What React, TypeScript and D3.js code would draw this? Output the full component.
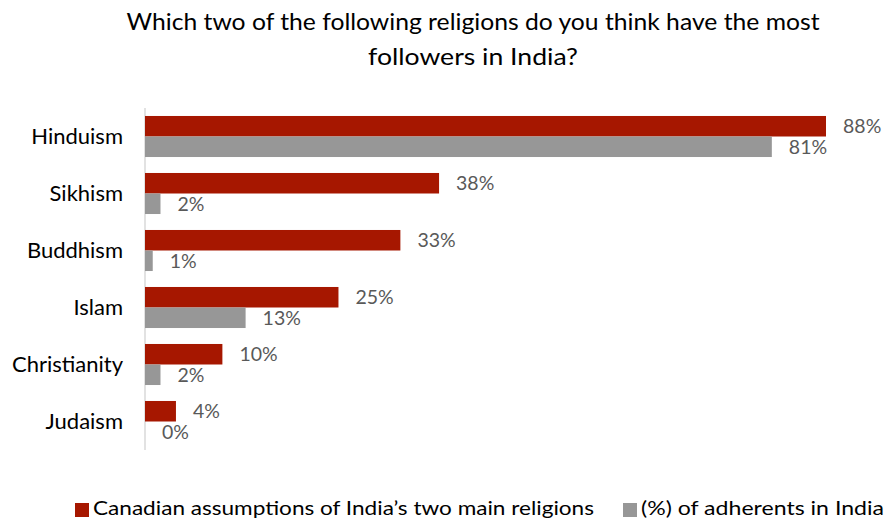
import React from "react";
import * as d3 from "d3";

const categories = ["Hinduism", "Sikhism", "Buddhism", "Islam", "Christianity", "Judaism"];
const assumptions = [88, 38, 33, 25, 10, 4];
const adherents = [81, 2, 1, 13, 2, 0];
const seriesNames = ["Canadian assumptions of India\u2019s two main religions", "(%) of adherents in India"];
const titleLines = ["Which two of the following religions do you think have the most", "followers in India?"];

const RED = "#A61700";
const GRAY = "#979797";
const FONT = "Lato, 'Open Sans', sans-serif";

export default function App() {
  const W = 886, H = 520;
  const x = d3.scaleLinear().domain([0, 88]).range([145, 826]);
  const y = d3.scaleBand<string>().domain(categories).range([108, 450]).paddingInner(0.28).paddingOuter(0.14);
  const half = y.bandwidth() / 2;
  const titleLens = [693, 210];
  return (
    <svg width={W} height={H} style={{ position: "absolute", left: 0, top: 0, background: "#fff" }} fontFamily={FONT}>
      {titleLines.map((t, i) => (
        <text key={i} x={473} y={30 + i * 35} textAnchor="middle" fontSize={24} fill="#000"
          textLength={titleLens[i]} lengthAdjust="spacingAndGlyphs">{t}</text>
      ))}
      <line x1={145} x2={145} y1={108} y2={450} stroke="#d9d9d9" strokeWidth={1.5} />
      {categories.map((c, i) => {
        const y0 = y(c)!;
        return (
          <g key={c}>
            <text x={123} y={y0 + half} dy="0.35em" textAnchor="end" fontSize={22} fill="#000">{c}</text>
            <rect x={x(0)} y={y0} width={x(assumptions[i]) - x(0)} height={half} fill={RED} />
            <rect x={x(0)} y={y0 + half} width={x(adherents[i]) - x(0)} height={half} fill={GRAY} />
            <text x={x(assumptions[i]) + 17} y={y0 + half / 2} dy="0.35em" fontSize={19.5} fill="#595959">{assumptions[i]}%</text>
            <text x={x(adherents[i]) + 17} y={y0 + half * 1.5} dy="0.35em" fontSize={19.5} fill="#595959">{adherents[i]}%</text>
          </g>
        );
      })}
      <rect x={75} y={503} width={14} height={14} fill={RED} />
      <text x={93} y={515} fontSize={20} fill="#000" textLength={501} lengthAdjust="spacingAndGlyphs">{seriesNames[0]}</text>
      <rect x={623} y={503} width={14} height={14} fill={GRAY} />
      <text x={641} y={515} fontSize={20} fill="#000" textLength={243} lengthAdjust="spacingAndGlyphs">{seriesNames[1]}</text>
    </svg>
  );
}
